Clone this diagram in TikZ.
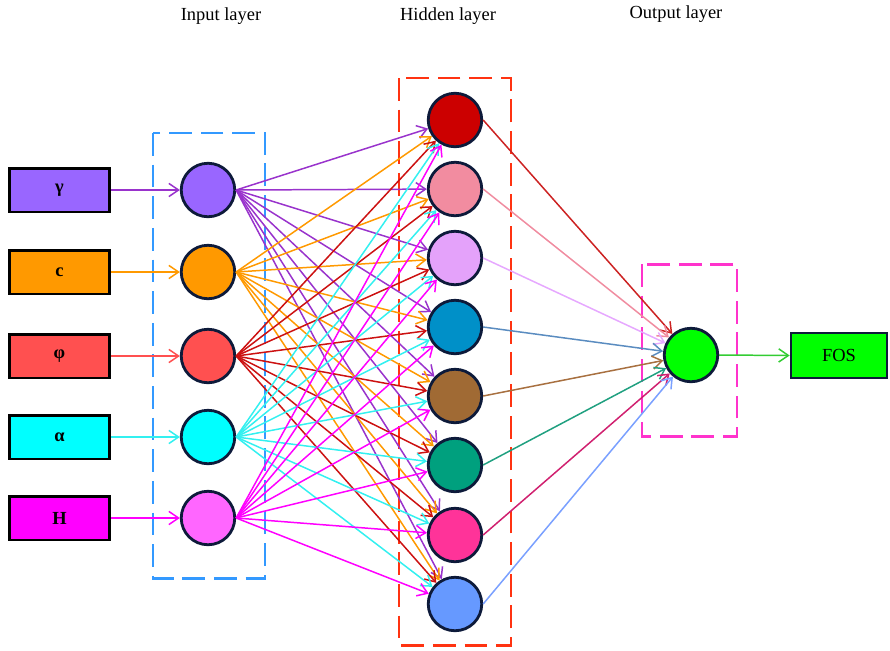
\documentclass[tikz,border=0pt]{standalone}
\usepackage{fontspec}
\setmainfont{Liberation Serif}
\usetikzlibrary{arrows.meta}

% layer colours
\definecolor{cGam}{HTML}{9966FF}
\definecolor{cGamE}{HTML}{9933CC}
\definecolor{cC}{HTML}{FF9900}
\definecolor{cPhi}{HTML}{FF5050}
\definecolor{cPhiE}{HTML}{CC1111}
\definecolor{cAlp}{HTML}{00FFFF}
\definecolor{cAlpE}{HTML}{33F0F0}
\definecolor{cH}{HTML}{FF00FF}
\definecolor{cHn}{HTML}{FF66FF}
\definecolor{hA}{HTML}{CC0000}
\definecolor{hB}{HTML}{F28CA0}
\definecolor{hC}{HTML}{E4A2FA}
\definecolor{hD}{HTML}{0090C8}
\definecolor{hE}{HTML}{A06A34}
\definecolor{hF}{HTML}{00A07E}
\definecolor{hG}{HTML}{FF3399}
\definecolor{hH}{HTML}{6699FF}
\definecolor{eA}{HTML}{CC2222}
\definecolor{eB}{HTML}{F08CA0}
\definecolor{eC}{HTML}{E6A8FF}
\definecolor{eD}{HTML}{5A8CC0}
\definecolor{eE}{HTML}{A87040}
\definecolor{eF}{HTML}{20A080}
\definecolor{eG}{HTML}{D0206F}
\definecolor{eH}{HTML}{7AA0FF}
\definecolor{outG}{HTML}{00FF00}
\definecolor{outE}{HTML}{33CC33}
\definecolor{rim}{HTML}{0D1A3A}
\definecolor{frameBlue}{HTML}{3399FF}
\definecolor{frameRed}{HTML}{FF3311}
\definecolor{framePink}{HTML}{FF33CC}

\begin{document}
\begin{tikzpicture}[x=0.02cm,y=-0.02cm,
  inbox/.style={draw=black, line width=1.7pt, minimum width=2.02cm,
    minimum height=0.88cm, inner sep=0pt,
    font=\fontsize{10.5}{12}\selectfont\bfseries},
  neuron/.style={circle, draw=rim, line width=1.6pt, minimum size=1.07cm,
    inner sep=0pt},
  edge/.style={line width=0.85pt, -{Straight Barb[length=5.5pt,width=7.5pt]}},
  layerframe/.style={line width=1.7pt, dash pattern=on 13pt off 5pt},
  title/.style={font=\fontsize{10.5}{12}\selectfont}]

\useasboundingbox (0,0) rectangle (890,650);

% dashed layer frames
\draw[layerframe, frameBlue] (153,133) rectangle (265,578);
\draw[layerframe, frameRed] (399,78) rectangle (511,645);
\draw[layerframe, framePink] (642,264) rectangle (737,436);

% titles
\node[title] (tIn) at (221,16) {Input layer};
\node[title] (tHid) at (448,16) {Hidden layer};
\node[title] (tOut) at (676,14) {Output layer};

% input boxes and input neurons
\foreach \n/\y/\lab/\bc/\nc in {g/190/γ/cGam/cGam,
                                 c/272/c/cC/cC,
                                 p/356/φ/cPhi/cPhi,
                                 a/437/α/cAlp/cAlp,
                                 h/518/H/cH/cHn}{
  \node[inbox, fill=\bc] (b\n) at (59.5,\y) {\lab};
  \node[neuron, fill=\nc] (i\n) at (208,\y) {};
}

% hidden neurons
\foreach \k/\y/\col in {1/120/hA, 2/189/hB, 3/258/hC, 4/327/hD,
                        5/396/hE, 6/465/hF, 7/535/hG, 8/604/hH}{
  \node[neuron, fill=\col] (h\k) at (455,\y) {};
}

% output neuron and result box
\node[neuron, fill=outG] (o) at (691,355) {};
\node[inbox, fill=outG, draw=rim, line width=1.5pt, minimum width=1.92cm,
  minimum height=0.9cm, font=\fontsize{10.5}{12}\selectfont] (fos) at (839,355.5) {FOS};

% inputs to input neurons
\foreach \n/\col in {g/cGamE, c/cC, p/cPhi, a/cAlpE, h/cH}{
  \draw[edge, \col] (b\n.east) -- (i\n.west);
}

% input layer to hidden layer
\foreach \n/\col in {g/cGamE, c/cC, p/cPhiE, a/cAlpE, h/cH}{
  \foreach \k in {1,...,8}{
    \draw[edge, \col] (i\n.east) -- (h\k);
  }
}

% hidden layer to output neuron
\foreach \k/\col in {1/eA, 2/eB, 3/eC, 4/eD, 5/eE, 6/eF, 7/eG, 8/eH}{
  \draw[edge, \col] (h\k.east) -- (o);
}

% output neuron to result
\draw[edge, outE] (o.east) -- (fos.west);

\end{tikzpicture}
\end{document}
